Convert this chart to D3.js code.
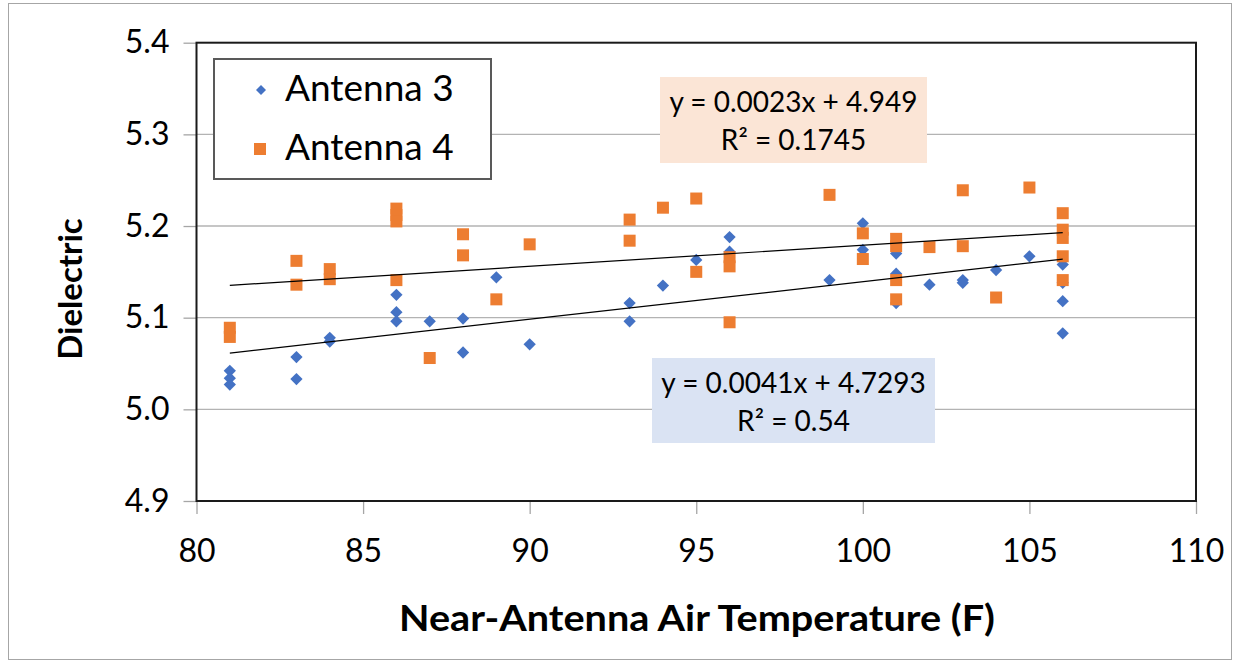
<!DOCTYPE html>
<html><head><meta charset="utf-8">
<script src="https://cdn.jsdelivr.net/npm/d3@7"></script>
<style>body{margin:0;background:#fff}svg{display:block}</style>
</head><body>
<svg id="c" width="1240" height="668"></svg>
<script>
const ant3X = [81,81,81,83,83,84,84,86,86,86,87,88,88,89,90,93,93,94,95,96,96,99,100,100,101,101,101,102,103,103,104,105,106,106,106,106];
const ant3Y = [5.042,5.034,5.027,5.057,5.033,5.078,5.074,5.125,5.106,5.096,5.096,5.099,5.062,5.144,5.071,5.116,5.096,5.135,5.163,5.188,5.172,5.141,5.203,5.174,5.170,5.148,5.116,5.136,5.141,5.138,5.152,5.167,5.158,5.138,5.118,5.083];
const ant4X = [81,81,83,83,84,84,86,86,86,86,87,88,88,89,90,93,93,94,95,95,96,96,96,99,100,100,101,101,101,101,102,103,103,104,105,106,106,106,106,106];
const ant4Y = [5.089,5.079,5.162,5.136,5.153,5.142,5.219,5.212,5.205,5.141,5.056,5.191,5.168,5.120,5.180,5.207,5.184,5.220,5.230,5.150,5.166,5.156,5.095,5.234,5.192,5.164,5.186,5.178,5.141,5.120,5.177,5.239,5.178,5.122,5.242,5.214,5.196,5.187,5.167,5.141];
const trend3 = {slope:0.0041, intercept:4.7293, label1:"y = 0.0041x + 4.7293", label2:"R² = 0.54"};
const trend4 = {slope:0.0023, intercept:4.949, label1:"y = 0.0023x + 4.949", label2:"R² = 0.1745"};
const xTicks = [80,85,90,95,100,105,110];
const yTicks = [4.9,5.0,5.1,5.2,5.3,5.4];
const seriesNames = ["Antenna 3","Antenna 4"];
const colors = ["#4472C4","#ED7D31"];

const svg = d3.select("#c");
const F = "Lato, 'Open Sans', sans-serif";
const L = 196.5, R = 1196, T = 42.7, B = 501;
const x = d3.scaleLinear().domain([80,110]).range([L,R]);
const y = d3.scaleLinear().domain([4.9,5.4]).range([B,T]);

svg.append("rect").attr("x",8.5).attr("y",3.5).attr("width",1223).attr("height",656)
  .attr("fill","#fff").attr("stroke","#a6a6a6").attr("stroke-width",1);

// gridlines
svg.append("g").selectAll("line").data(yTicks.slice(1,-1)).join("line")
  .attr("x1",L).attr("x2",R).attr("y1",d=>y(d)).attr("y2",d=>y(d))
  .attr("stroke","#b3b3b3").attr("stroke-width",1.3);

// axes
const yAx = svg.append("g").attr("transform",`translate(${L},0)`)
  .call(d3.axisLeft(y).tickValues(yTicks).tickFormat(d3.format(".1f")).tickSize(13).tickPadding(14));
const xAx = svg.append("g").attr("transform",`translate(0,${B})`)
  .call(d3.axisBottom(x).tickValues(xTicks).tickSize(13).tickPadding(25));
[yAx,xAx].forEach(g=>{
  g.select(".domain").remove();
  g.selectAll(".tick line").attr("stroke","#a6a6a6").attr("stroke-width",1.3);
  g.selectAll(".tick text").attr("font-family",F).attr("font-size",32).attr("fill","#000");
});

// plot border
svg.append("rect").attr("x",L).attr("y",T).attr("width",R-L).attr("height",B-T)
  .attr("fill","none").attr("stroke","#1a1a1a").attr("stroke-width",2);

// points
const diamond = d3.symbol().type(d3.symbolDiamond2).size(96);
svg.append("g").selectAll("path").data(ant3X.map((d,i)=>[d,ant3Y[i]])).join("path")
  .attr("d",diamond).attr("transform",d=>`translate(${x(d[0])},${y(d[1])})`)
  .attr("fill",colors[0]);
svg.append("g").selectAll("rect").data(ant4X.map((d,i)=>[d,ant4Y[i]])).join("rect")
  .attr("x",d=>x(d[0])-6).attr("y",d=>y(d[1])-6).attr("width",12).attr("height",12)
  .attr("fill",colors[1]);

// trendlines
[trend3,trend4].forEach(t=>{
  svg.append("line").attr("x1",x(81)).attr("x2",x(106))
    .attr("y1",y(t.slope*81+t.intercept)).attr("y2",y(t.slope*106+t.intercept))
    .attr("stroke","#000").attr("stroke-width",1.2);
});

// equation boxes
function eqBox(t, bx, by, bw, bh, fill){
  svg.append("rect").attr("x",bx).attr("y",by).attr("width",bw).attr("height",bh).attr("fill",fill);
  svg.append("text").attr("x",bx+bw/2).attr("y",by+35).attr("text-anchor","middle")
    .attr("font-family",F).attr("font-size",28).text(t.label1);
  svg.append("text").attr("x",bx+bw/2).attr("y",by+73).attr("text-anchor","middle")
    .attr("font-family",F).attr("font-size",28).text(t.label2);
}
eqBox(trend4, 660, 77, 267, 86, "#FBE5D6");
eqBox(trend3, 652, 358, 283, 85, "#DAE3F3");

// legend
const lg = svg.append("g");
lg.append("rect").attr("x",214).attr("y",59).attr("width",277).attr("height",120)
  .attr("fill","#fff").attr("stroke","#595959").attr("stroke-width",2);
lg.append("path").attr("d",d3.symbol().type(d3.symbolDiamond2).size(64))
  .attr("transform","translate(261,90)").attr("fill",colors[0]);
lg.append("rect").attr("x",254).attr("y",143).attr("width",12).attr("height",12).attr("fill",colors[1]);
lg.append("text").attr("x",285).attr("y",101).attr("font-family",F).attr("font-size",37).text(seriesNames[0]);
lg.append("text").attr("x",285).attr("y",160).attr("font-family",F).attr("font-size",37).text(seriesNames[1]);

// axis titles
svg.append("text").attr("x",697).attr("y",631).attr("text-anchor","middle")
  .attr("font-family",F).attr("font-weight","bold").attr("font-size",36)
  .attr("textLength",596).attr("lengthAdjust","spacingAndGlyphs")
  .text("Near-Antenna Air Temperature (F)");
svg.append("text").attr("transform","translate(82,289) rotate(-90)").attr("text-anchor","middle")
  .attr("font-family",F).attr("font-weight","bold").attr("font-size",33).text("Dielectric");
</script>
</body></html>
